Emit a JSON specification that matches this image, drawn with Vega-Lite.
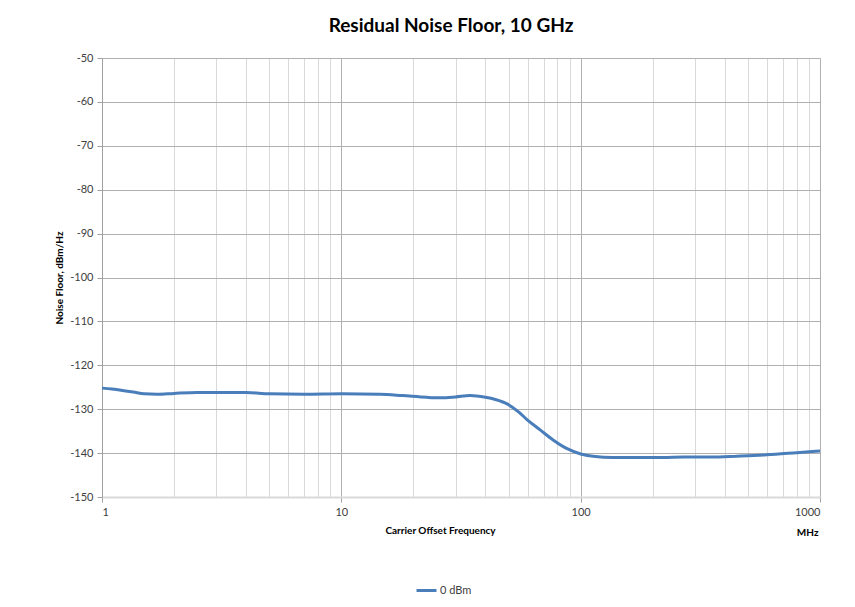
{
  "$schema": "https://vega.github.io/schema/vega-lite/v6.json",
  "width": 718,
  "height": 439,
  "autosize": {"type": "none"},
  "padding": {"left": 102, "top": 58, "right": 35, "bottom": 110},
  "background": "white",
  "title": {"text": "Residual Noise Floor, 10 GHz", "font": "Lato", "fontSize": 19, "fontWeight": "bold", "color": "#000000", "offset": 16, "dx": -10},
  "config": {"view": {"stroke": null}, "font": "Lato"},
  "data": {"values": [
    {"freq": 1, "noise": -125.2},
    {"freq": 1.1, "noise": -125.4},
    {"freq": 1.2, "noise": -125.7},
    {"freq": 1.35, "noise": -126.1},
    {"freq": 1.5, "noise": -126.5},
    {"freq": 1.7, "noise": -126.6},
    {"freq": 2, "noise": -126.4},
    {"freq": 2.5, "noise": -126.2},
    {"freq": 3, "noise": -126.2},
    {"freq": 4, "noise": -126.2},
    {"freq": 5, "noise": -126.5},
    {"freq": 7, "noise": -126.6},
    {"freq": 10, "noise": -126.5},
    {"freq": 14.5, "noise": -126.6},
    {"freq": 18, "noise": -126.9},
    {"freq": 22.8, "noise": -127.3},
    {"freq": 26, "noise": -127.4},
    {"freq": 30, "noise": -127.2},
    {"freq": 34.5, "noise": -126.9},
    {"freq": 40, "noise": -127.3},
    {"freq": 44, "noise": -127.8},
    {"freq": 49.3, "noise": -128.8},
    {"freq": 55, "noise": -130.6},
    {"freq": 60, "noise": -132.5},
    {"freq": 67.7, "noise": -134.7},
    {"freq": 76.7, "noise": -137.0},
    {"freq": 87.8, "noise": -139.0},
    {"freq": 100, "noise": -140.2},
    {"freq": 115, "noise": -140.8},
    {"freq": 135, "noise": -141.0},
    {"freq": 170, "noise": -141.0},
    {"freq": 220, "noise": -141.0},
    {"freq": 270, "noise": -140.9},
    {"freq": 350, "noise": -140.9},
    {"freq": 450, "noise": -140.7},
    {"freq": 600, "noise": -140.4},
    {"freq": 800, "noise": -139.9},
    {"freq": 1000, "noise": -139.5}
  ]},
  "layer": [
    {
      "mark": {"type": "line", "strokeWidth": 3, "interpolate": "monotone"},
      "encoding": {
        "x": {
          "field": "freq", "type": "quantitative",
          "scale": {"type": "log", "domain": [1, 1000], "nice": false},
          "axis": {
            "values": [1,2,3,4,5,6,7,8,9,10,20,30,40,50,60,70,80,90,100,200,300,400,500,600,700,800,900,1000],
            "labelExpr": "indexof([1,10,100,1000], datum.value) >= 0 ? datum.label : ''",
            "format": "d",
            "grid": true,
            "gridColor": {"condition": {"test": "indexof([1,10,100,1000], datum.value) >= 0", "value": "#b0b0b0"}, "value": "#d9d9d9"},
            "gridWidth": 1,
            "ticks": true,
            "tickSize": 5,
            "tickColor": {"condition": {"test": "indexof([1,10,100,1000], datum.value) >= 0", "value": "#a0a0a0"}, "value": "transparent"},
            "domainColor": "#d9d9d9",
            "domainWidth": 2,
            "labelFontSize": 11,
            "labelColor": "#404040",
            "labelPadding": 4,
            "labelFont": "Lato",
            "title": "Carrier Offset Frequency",
            "titleFont": "Lato",
            "titleFontSize": 10,
            "titleFontWeight": "bold",
            "titleColor": "#000000",
            "titleX": 338,
            "titleY": 28,
            "titleBaseline": "top"
          }
        },
        "y": {
          "field": "noise", "type": "quantitative",
          "scale": {"domain": [-150, -50], "nice": false, "zero": false},
          "axis": {
            "values": [-150,-140,-130,-120,-110,-100,-90,-80,-70,-60,-50],
            "labelExpr": "'' + datum.value",
            "grid": true,
            "gridColor": "#b0b0b0",
            "tickSize": 5,
            "tickColor": "#a0a0a0",
            "domainColor": "#a0a0a0",
            "labelFontSize": 11,
            "labelColor": "#404040",
            "labelPadding": 4,
            "labelFont": "Lato",
            "title": "Noise Floor, dBm/Hz",
            "titleFont": "Lato",
            "titleFontSize": 10,
            "titleFontWeight": "bold",
            "titleColor": "#000000",
            "titleX": -38,
            "titleY": 219.5
          }
        },
        "color": {
          "datum": "0 dBm",
          "type": "nominal",
          "scale": {"range": ["#4a7ebb"]},
          "legend": {
            "orient": "none",
            "legendX": 313,
            "legendY": 521,
            "title": null,
            "symbolType": "stroke",
            "symbolSize": 400,
            "symbolStrokeWidth": 3,
            "labelFontSize": 11,
            "labelColor": "#404040",
            "labelFont": "Lato",
            "labelOffset": 2
          }
        }
      }
    },
    {
      "mark": {"type": "line", "opacity": 0},
      "encoding": {
        "x": {
          "field": "freq", "type": "quantitative",
          "axis": {
            "orient": "bottom",
            "labels": false, "ticks": false, "grid": false, "domain": false,
            "title": "MHz",
            "titleFont": "Lato",
            "titleFontSize": 10,
            "titleFontWeight": "bold",
            "titleColor": "#000000",
            "titleX": 716,
            "titleY": 30,
            "titleAlign": "right",
            "titleBaseline": "top"
          }
        },
        "y": {"field": "noise", "type": "quantitative"}
      }
    }
  ],
  "resolve": {"axis": {"x": "independent"}}
}
